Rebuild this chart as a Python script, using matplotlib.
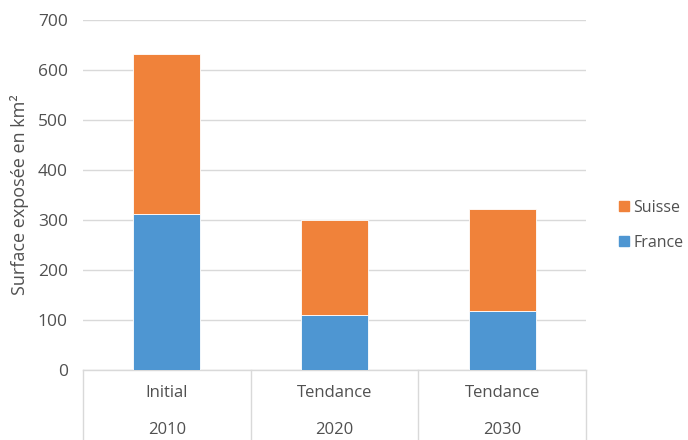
import matplotlib
matplotlib.use("Agg")
import matplotlib.pyplot as plt
from matplotlib.patches import Patch

# Stacked exposed area per scenario (km²)
scenarios = ["Initial", "Tendance", "Tendance"]
years = ["2010", "2020", "2030"]
france = [313, 110, 118]
suisse = [320, 190, 204]

BLUE = "#4E96D2"
ORANGE = "#F0823A"
TEXT = "#505050"
GRID = "#D9D9D9"

plt.rcParams["font.family"] = ["Open Sans", "DejaVu Sans"]

fig = plt.figure(figsize=(6.88, 4.40), dpi=100)
ax = fig.add_axes([0.1206, 0.159, 0.731, 0.7955])

x = range(len(scenarios))
ax.bar(x, france, width=0.4, color=BLUE, edgecolor="white", linewidth=0.6, zorder=3)
ax.bar(x, suisse, bottom=france, width=0.4, color=ORANGE, edgecolor="white",
       linewidth=0.6, zorder=3)

ax.set_xlim(-0.5, len(scenarios) - 0.5)
ax.set_ylim(0, 700)
ax.set_yticks(range(0, 701, 100))
ax.yaxis.grid(True, color=GRID, linewidth=1.0, zorder=0)
ax.tick_params(axis="y", length=0, pad=11, labelsize=12.5, labelcolor=TEXT)
ax.set_xticks([])
for side in ["top", "right", "left"]:
    ax.spines[side].set_visible(False)
ax.spines["bottom"].set_color(GRID)
ax.spines["bottom"].set_linewidth(1.0)

ax.set_ylabel("Surface exposée en km²", fontsize=13, color=TEXT, labelpad=6)

# two-level category axis with separators
n = len(scenarios)
for i in range(n + 1):
    xf = i / n
    ax.plot([xf, xf], [0, -0.22], transform=ax.transAxes, color=GRID,
            linewidth=1.0, clip_on=False)
for i, (s, yr) in enumerate(zip(scenarios, years)):
    xc = (i + 0.5) / n
    ax.text(xc, -0.066, s, transform=ax.transAxes, ha="center", va="center",
            fontsize=12, color=TEXT)
    ax.text(xc, -0.171, yr, transform=ax.transAxes, ha="center", va="center",
            fontsize=12, color=TEXT)

handles = [Patch(color=ORANGE, label="Suisse"), Patch(color=BLUE, label="France")]
leg = fig.legend(handles=handles, loc="center left", bbox_to_anchor=(0.888, 0.488),
                 frameon=False, fontsize=11.5, handlelength=0.6, handleheight=0.6,
                 handletextpad=0.3, labelspacing=1.2, borderpad=0)
for t in leg.get_texts():
    t.set_color(TEXT)

fig.savefig("out.png", dpi=100)
